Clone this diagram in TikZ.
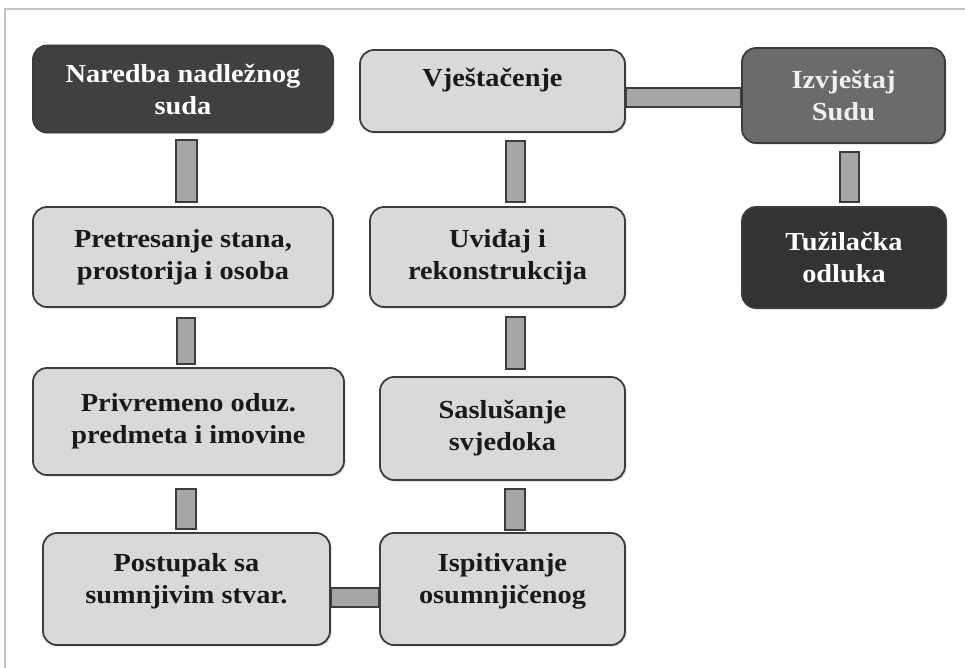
\documentclass[tikz,border=0pt]{standalone}
\usepackage{fontspec}
\newfontfamily\boxfont{Liberation Serif}[FakeStretch=1.09]
\usepackage{tikz}
\usetikzlibrary{calc,shadows}
\definecolor{lightfill}{HTML}{D9D9D9}
\definecolor{midfill}{HTML}{6B6B6B}
\definecolor{darkfill}{HTML}{404040}
\definecolor{blackfill}{HTML}{333333}
\definecolor{edgegray}{HTML}{3C3C3C}
\definecolor{barfill}{HTML}{A6A6A6}
\definecolor{framegray}{HTML}{C4C4C4}
\tikzset{
	stepbox/.style={draw=edgegray, line width=0.9pt, rounded corners=7pt, align=center, inner sep=0pt,
		font=\boxfont\fontsize{13}{16}\selectfont\bfseries,
		drop shadow={shadow xshift=0.8pt, shadow yshift=-0.8pt, opacity=0.25}},
	lightbox/.style={stepbox, fill=lightfill, text=black!90},
	darkbox/.style={stepbox, fill=darkfill, text=white},
	bar/.style={draw=edgegray, line width=0.7pt, fill=barfill}
}

\begin{document}
\begin{tikzpicture}[x=0.5pt, y=-0.5pt]
		%%%%% START %%%%%
		\useasboundingbox (0, 0) rectangle (965, 668);
		\draw[framegray, line width=0.6pt] (5, 668) -- (5, 9) -- (965, 9);
		
		% left column
		\node[darkbox, minimum width=150pt, minimum height=43.5pt] (naredba) at (183, 89) {Naredba nadležnog\\suda};
		\node[lightbox, minimum width=150pt, minimum height=50pt] (pretres) at (183, 257) {Pretresanje stana,\\prostorija i osoba};
		\node[lightbox, minimum width=155.5pt, minimum height=53.5pt] (privr) at (188.5, 421.5) {Privremeno oduz.\\predmeta i imovine};
		\node[lightbox, minimum width=143.5pt, minimum height=56pt, text depth=11pt] (postup) at (186.5, 589) {Postupak sa\\sumnjivim stvar.};
		
		% middle column
		\node[lightbox, minimum width=132.5pt, minimum height=41pt, text depth=14pt] (vjest) at (492.5, 91) {Vještačenje};
		\node[lightbox, minimum width=127.5pt, minimum height=50pt] (uvidj) at (497.5, 257) {Uviđaj i\\rekonstrukcija};
		\node[lightbox, minimum width=122.5pt, minimum height=51.5pt] (saslus) at (502.5, 428.5) {Saslušanje\\svjedoka};
		\node[lightbox, minimum width=122.5pt, minimum height=56pt, text depth=11pt] (ispit) at (502.5, 589) {Ispitivanje\\osumnjičenog};
		
		% right column
		\node[stepbox, fill=midfill, text=white!94!black, minimum width=101.5pt, minimum height=47.5pt] (izvj) at (843.5, 95.5) {Izvještaj\\Sudu};
		\node[stepbox, fill=blackfill, text=white, minimum width=102pt, minimum height=50.5pt] (tuzil) at (844, 257.5) {Tužilačka\\odluka};
		
		% bars
		\draw[bar] ($(naredba.south)+(-7, 6.5)$) rectangle ($(pretres.north)+(14, -4)$);
		\draw[bar] ($(pretres.south)+(-6, 10)$) rectangle ($(privr.north)+(6.5, -3)$);
		\draw[bar] ($(privr.south)+(-12.5, 13)$) rectangle ($(postup.north)+(9.5, -3)$);
		\draw[bar] ($(vjest.south)+(13.5, 8)$) rectangle ($(uvidj.north)+(27.5, -4)$);
		\draw[bar] ($(uvidj.south)+(8.5, 9)$) rectangle ($(saslus.north)+(22.5, -7)$);
		\draw[bar] ($(saslus.south)+(2.5, 8)$) rectangle ($(ispit.north)+(22.5, -2)$);
		\draw[bar] ($(izvj.south)+(-3.5, 8)$) rectangle ($(tuzil.north)+(15, -4)$);
		\draw[bar] ($(vjest.east)+(0, -3)$) rectangle ($(izvj.west)+(0, 11.5)$);
		\draw[bar] ($(postup.east)+(0, -1)$) rectangle ($(ispit.west)+(0, 18)$);
		%%%%% END %%%%%
\end{tikzpicture}
\end{document}
